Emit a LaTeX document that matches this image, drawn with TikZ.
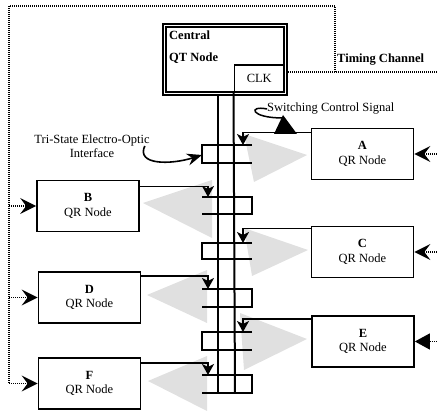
\documentclass[tikz,border=0pt]{standalone}
\usepackage{fontspec}
\setmainfont{Liberation Serif}
\usepackage{tikz}
\usetikzlibrary{arrows.meta,positioning,calc}

\begin{document}
\begin{tikzpicture}[x=1pt,y=-1pt,every node/.style={font=\fontsize{12.5}{14.5}\selectfont,align=center,inner sep=0pt},qrnode/.style={draw,line width=1.7pt,minimum width=102pt,minimum height=51pt},central/.style={draw,line width=1.5pt,double,double distance=1.5pt,minimum width=121pt,minimum height=68pt},boldtext/.style={font=\bfseries\fontsize{12.5}{14.5}\selectfont},busline/.style={line width=2pt},iface/.style={line width=2pt},tobus/.style={-{Stealth[length=11pt,width=12pt,inset=3pt]},line width=1.7pt},feed/.style={-{Stealth[length=16pt,width=16pt,inset=6pt]},line width=1.3pt,dash pattern=on 1pt off 1pt},feedtri/.style={-{Triangle[length=15pt,width=16pt]},line width=1.3pt,dash pattern=on 1pt off 1pt},timing/.style={line width=1.4pt,dash pattern=on 1pt off 1pt},beam/.style={fill=black!12}]
\useasboundingbox (0,0) rectangle (437,411);
% light beams
\fill[beam] (244,134) -- (307,155) -- (254,182) -- cycle; \fill[beam] (212,180) -- (143,203) -- (212,238) -- cycle;
\fill[beam] (244,228) -- (308,250) -- (252,276) -- cycle; \fill[beam] (207,270) -- (147,295) -- (207,323) -- cycle;
\fill[beam] (240,313) -- (307,339) -- (244,370) -- cycle; \fill[beam] (207,356) -- (148,381) -- (207,411) -- cycle;
% central node
\node[central] (qt) at (225,59.5) {};
\node[boldtext,anchor=north west,align=left] (qtlabel) at (169,31) {Central\\[7pt]QT Node};
\node[draw,line width=1.5pt,minimum width=50pt,minimum height=27pt,anchor=south east] (clk) at (285,93) {CLK};
% QR nodes
\node[qrnode] (a) at (362.5,154) {\textbf{A}\\QR Node};
\node[qrnode] (b) at (88,206) {\textbf{B}\\QR Node};
\node[qrnode] (c) at (362.5,252) {\textbf{C}\\QR Node};
\node[qrnode] (d) at (89.5,297.5) {\textbf{D}\\QR Node};
\node[qrnode] (e) at (363,341.5) {\textbf{E}\\QR Node};
\node[qrnode] (f) at (89.5,383.5) {\textbf{F}\\QR Node};
% bus and interfaces
\coordinate (bl) at (218,393); \coordinate (br) at (235,393);
\draw[busline] (qt.south -| bl) -- (bl); \draw[busline] (clk.south west) -- (br);
\draw[iface] (252,145) -- (202,145) -- (202,163) -- (252,163);
\draw[iface] (202,197) -- (252,197) -- (252,214) -- (202,214);
\draw[iface] (252,243) -- (202,243) -- (202,259) -- (252,259);
\draw[iface] (202,289) -- (252,289) -- (252,307) -- (202,307);
\draw[iface] (252,332) -- (202,332) -- (202,350) -- (252,350);
\draw[iface] (202,375) -- (252,375) -- (252,393) -- (202,393);
\coordinate (ta) at (243,145); \coordinate (tb) at (208,197); \coordinate (tc) at (243,243);
\coordinate (td) at (208,289); \coordinate (te) at (243,332); \coordinate (tf) at (208,375);
\draw[tobus] ([yshift=-5pt]a.north west) -| (ta); \draw[tobus] ([yshift=-7pt]b.north east) -| (tb);
\draw[tobus] ([yshift=-3pt]c.north west) -| (tc); \draw[tobus] ([yshift=-5pt]d.north east) -| (td);
\draw[tobus] ([yshift=-4pt]e.north west) -| (te); \draw[tobus] ([yshift=-6pt]f.north east) -| (tf);
% timing channel
\coordinate (tcend) at (437,72); \coordinate (tr) at (335,6); \coordinate (tl) at (9,6); \coordinate (re) at (437,0);
\draw[timing] (qt.east |- tcend) -- (tcend);
\draw[timing] (tr |- tcend) -- (tr) -- (tl) -- (tl |- f.west);
\node[boldtext,anchor=west] (tclabel) at (337,60) {Timing Channel};
\draw[feed] (tl |- b.west) -- (b.west); \draw[feed] (tl |- d.west) -- (d.west); \draw[feed] (tl |- f.west) -- (f.west);
\draw[feed] (re |- a.east) -- (a.east); \draw[feed] (re |- c.east) -- (c.east); \draw[feedtri] (re |- e.east) -- (e.east);
% labels
\node[anchor=west] (scs) at (267,109) {Switching Control Signal};
\draw[line width=1.5pt] (scs.west) .. controls (248,105) and (250,118) .. (283,118);
\fill (283,115) -- (274,134) -- (297,134) -- cycle;
\node (tsi) at (92,146) {Tri-State Electro-Optic\\Interface};
\coordinate (ifa) at (202,155);
\draw[-{Stealth[length=15pt,width=12pt,inset=5pt]},line width=1.6pt] ([xshift=-5pt]tsi.east) .. controls (136,165) and (170,165) .. (ifa);
\end{tikzpicture}
\end{document}
